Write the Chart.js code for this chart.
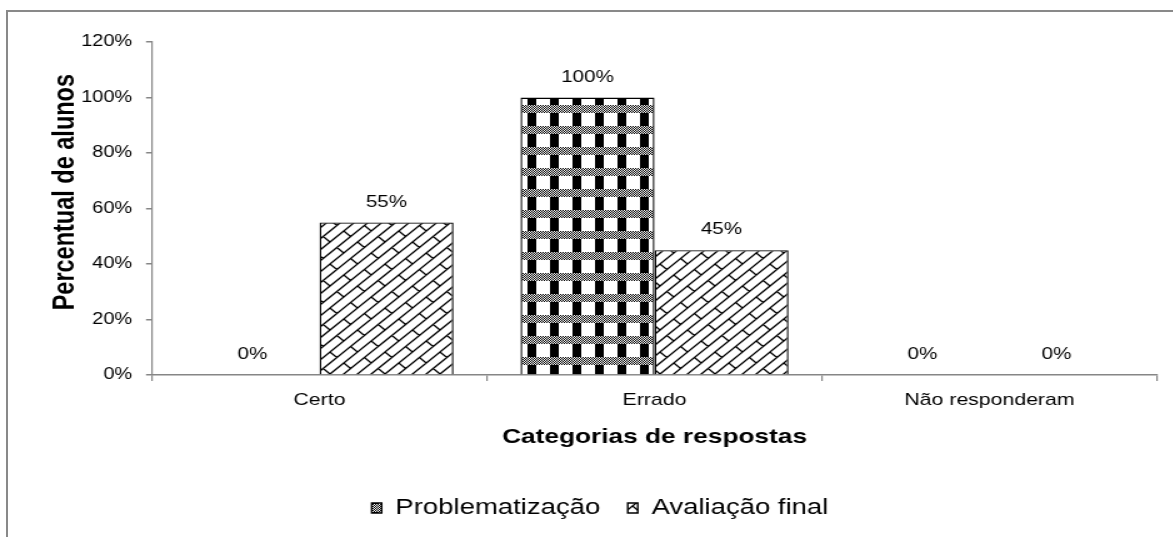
<!DOCTYPE html>
<html>
<head>
<meta charset="utf-8">
<script src="https://cdn.jsdelivr.net/npm/chart.js@4.4.1/dist/chart.umd.min.js"></script>
<style>
  html, body { margin: 0; padding: 0; background: #fff; overflow: hidden; }
  #frame { position: absolute; left: 6px; top: 10px; width: 1300px; height: 700px; border: 2px solid #898989; }
  /* the reference is stretched sideways, so draw narrow and widen */
  #wrap { position: absolute; left: 0; top: 0; width: 938.4px; height: 537px; transform: scaleX(1.25); transform-origin: 0 0; }
</style>
</head>
<body>
<div id="frame"></div>
<div id="wrap"><canvas id="chart"></canvas></div>
<script>
// data
const categories = ['Certo', 'Errado', 'Não responderam'];
const problematizacao = [0, 100, 0];
const avaliacaoFinal = [55, 45, 0];
const seriesNames = ['Problematização', 'Avaliação final'];

const FONT = 'Arial, "Liberation Sans", sans-serif';
const AXIS_GREY = '#868686';

// checkered fill: grey dotted band, then black / white blocks
function checkerPattern() {
  const c = document.createElement('canvas');
  c.width = 18; c.height = 21;
  const g = c.getContext('2d');
  g.fillStyle = '#fff';
  g.fillRect(0, 0, 18, 21);
  g.fillStyle = '#000';
  for (let y = 0; y < 8; y++) {
    for (let x = 0; x < 18; x++) {
      if ((x + y) % 2 === 0) g.fillRect(x, y, 1, 1);
    }
  }
  g.fillRect(8, 8, 7, 13);
  return g.createPattern(c, 'repeat');
}

// diagonal brick fill: "/" courses, "\" joints with half-brick stagger
function brickPattern() {
  const d = 11, T = 4 * d;
  const c = document.createElement('canvas');
  c.width = T; c.height = T;
  const g = c.getContext('2d');
  g.fillStyle = '#fff';
  g.fillRect(0, 0, T, T);
  g.strokeStyle = '#000';
  g.lineWidth = 1.3;
  const pt = (u, v) => [(u + v) / 2, (u - v) / 2];
  g.beginPath();
  for (let k = -4; k <= 12; k++) {
    const u = k * d;
    const a = pt(u, -3 * T), b = pt(u, 3 * T);
    g.moveTo(a[0], a[1]); g.lineTo(b[0], b[1]);
    for (let m = -4; m <= 4; m++) {
      const v = k * 2 * d + m * T;
      const p = pt(u, v), q = pt(u + d, v);
      g.moveTo(p[0], p[1]); g.lineTo(q[0], q[1]);
    }
  }
  g.stroke();
  return g.createPattern(c, 'repeat');
}

const valueLabels = {
  id: 'valueLabels',
  afterDatasetsDraw(chart) {
    const ctx = chart.ctx;
    ctx.save();
    ctx.font = '16.5px ' + FONT;
    ctx.fillStyle = '#000';
    ctx.textAlign = 'center';
    ctx.textBaseline = 'bottom';
    chart.data.datasets.forEach((ds, i) => {
      chart.getDatasetMeta(i).data.forEach((bar, j) => {
        ctx.fillText(ds.data[j] + '%', bar.x, bar.y - 12);
      });
    });
    ctx.restore();
  }
};

new Chart(document.getElementById('chart'), {
  type: 'bar',
  data: {
    labels: categories,
    datasets: [
      {
        label: seriesNames[0],
        data: problematizacao,
        backgroundColor: checkerPattern(),
        borderColor: '#000',
        borderWidth: 1.4,
        barPercentage: 1,
        categoryPercentage: 0.8
      },
      {
        label: seriesNames[1],
        data: avaliacaoFinal,
        backgroundColor: brickPattern(),
        borderColor: '#000',
        borderWidth: 1.4,
        barPercentage: 1,
        categoryPercentage: 0.8
      }
    ]
  },
  options: {
    responsive: true,
    maintainAspectRatio: false,
    animation: false,
    layout: { padding: { left: 34.4, right: 12.8, top: 42, bottom: 8 } },
    plugins: {
      tooltip: { enabled: false },
      legend: {
        position: 'bottom',
        labels: {
          color: '#000',
          font: { size: 22, family: FONT },
          boxWidth: 8,
          boxHeight: 10,
          padding: 22
        }
      }
    },
    scales: {
      x: {
        offset: true,
        grid: { display: true, drawOnChartArea: false, drawTicks: true, tickLength: 6, color: AXIS_GREY, offset: true, lineWidth: 1.2 },
        border: { color: AXIS_GREY, width: 1.5 },
        ticks: { color: '#000', font: { size: 17, family: FONT }, padding: 9 },
        title: {
          display: true,
          text: 'Categorias de respostas',
          color: '#000',
          font: { size: 21, weight: 'bold', family: FONT },
          padding: { top: 0, bottom: 25 }
        },
        afterFit(scale) { scale.height = 100; }
      },
      y: {
        min: 0,
        max: 120,
        ticks: {
          stepSize: 20,
          color: '#000',
          font: { size: 16, family: FONT },
          padding: 11,
          callback: v => v + '%'
        },
        grid: { display: true, drawOnChartArea: false, drawTicks: true, tickLength: 4.8, color: AXIS_GREY, lineWidth: 1.5 },
        border: { color: AXIS_GREY, width: 1.2 },
        title: {
          display: true,
          // leading spaces nudge the title up, as in the reference
          text: '     Percentual de alunos',
          color: '#000',
          font: { size: 23.5, weight: 'bold', family: FONT },
          padding: { top: 4, bottom: 0 }
        },
        afterFit(scale) { scale.width = 87.2; }
      }
    }
  },
  plugins: [valueLabels]
});
</script>
</body>
</html>
